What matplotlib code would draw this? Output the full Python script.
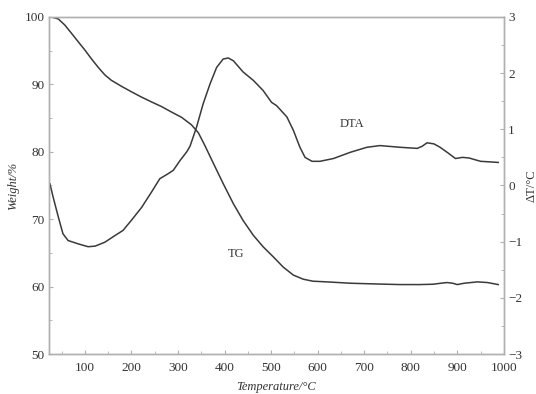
import numpy as np
import matplotlib
matplotlib.use("Agg")
import matplotlib.pyplot as plt
from matplotlib.ticker import MultipleLocator

plt.rcParams['font.family'] = ['Liberation Serif', 'DejaVu Serif']

# TG curve: temperature (°C) vs weight (%)
tg_temp = [28, 43, 57, 71, 86, 100, 114, 129, 143, 157, 179, 200, 222, 243, 265,
           286, 308, 329, 344, 358, 376, 397, 419, 440, 462, 483, 505, 526, 548,
           569, 590, 620, 670, 720, 777, 820, 848, 865, 878, 890, 900, 915, 943,
           965, 988]
tg_weight = [100.0, 99.7, 98.8, 97.6, 96.3, 95.1, 93.8, 92.5, 91.4, 90.6, 89.7,
             88.9, 88.1, 87.4, 86.7, 85.9, 85.1, 84.0, 82.8, 80.9, 78.3, 75.3,
             72.3, 69.8, 67.6, 65.9, 64.4, 62.9, 61.7, 61.1, 60.8, 60.7, 60.5,
             60.4, 60.3, 60.3, 60.35, 60.5, 60.6, 60.5, 60.3, 60.5, 60.7, 60.6,
             60.3]

# DTA curve: temperature (°C) vs ΔT (°C)
dta_temp = [25, 32, 43, 53, 64, 86, 107, 122, 143, 165, 182, 200, 222, 243, 261,
            279, 290, 305, 319, 326, 340, 354, 369, 383, 397, 408, 419, 440, 462,
            483, 501, 512, 534, 548, 562, 573, 588, 605, 634, 670, 706, 734, 777,
            814, 825, 835, 850, 863, 880, 896, 911, 925, 950, 970, 988]
dta_dT = [0.03, -0.21, -0.56, -0.86, -0.98, -1.04, -1.09, -1.08, -1.01, -0.89,
          -0.80, -0.62, -0.39, -0.12, 0.12, 0.21, 0.27, 0.45, 0.60, 0.70, 1.04,
          1.45, 1.81, 2.10, 2.25, 2.27, 2.22, 2.02, 1.87, 1.69, 1.48, 1.42, 1.22,
          0.98, 0.68, 0.50, 0.43, 0.43, 0.48, 0.59, 0.68, 0.71, 0.68, 0.66, 0.70,
          0.76, 0.74, 0.68, 0.58, 0.48, 0.50, 0.49, 0.43, 0.42, 0.41]

line_color = '#3a3a3a'
spine_color = '#b0b0b0'

fig = plt.figure(figsize=(5.36, 3.94), dpi=100)
ax = fig.add_axes([0.0914, 0.1015, 0.8486, 0.8555])
ax2 = ax.twinx()

ax.plot(tg_temp, tg_weight, color=line_color, lw=1.1)
ax2.plot(dta_temp, dta_dT, color=line_color, lw=1.1)

ax.set_xlim(23, 1000)
ax.set_ylim(50, 100)
ax2.set_ylim(-3, 3)

ax.xaxis.set_major_locator(MultipleLocator(100))
ax.xaxis.set_minor_locator(MultipleLocator(50))
ax.yaxis.set_major_locator(MultipleLocator(10))
ax.yaxis.set_minor_locator(MultipleLocator(5))
ax2.yaxis.set_major_locator(MultipleLocator(1))
ax2.yaxis.set_minor_locator(MultipleLocator(0.5))

for a in (ax, ax2):
    for s in a.spines.values():
        s.set_color(spine_color)
        s.set_linewidth(1.0)
    a.tick_params(which='both', direction='in', color=spine_color,
                  labelsize=9.5, labelcolor='#333333', pad=3)
    a.tick_params(which='major', length=3)
    a.tick_params(which='minor', length=2)
ax.tick_params(top=False, which='both')
ax.tick_params(axis='x', pad=6)

ax.set_xticks(range(100, 1001, 100))
ax.set_xlabel('Temperature/°C', fontsize=9, style='italic', color='#333333', labelpad=5)
ax.set_ylabel('Weight/%', fontsize=9, style='italic', color='#333333', labelpad=4)
ax2.set_ylabel('ΔT/°C', fontsize=9, color='#333333', labelpad=2)

ax.text(425, 64.8, 'TG', fontsize=9, color='#333333', ha='center', va='center')
ax2.text(674, 1.09, 'DTA', fontsize=9, color='#333333', ha='center', va='center')

fig.savefig('out.png', dpi=100)
